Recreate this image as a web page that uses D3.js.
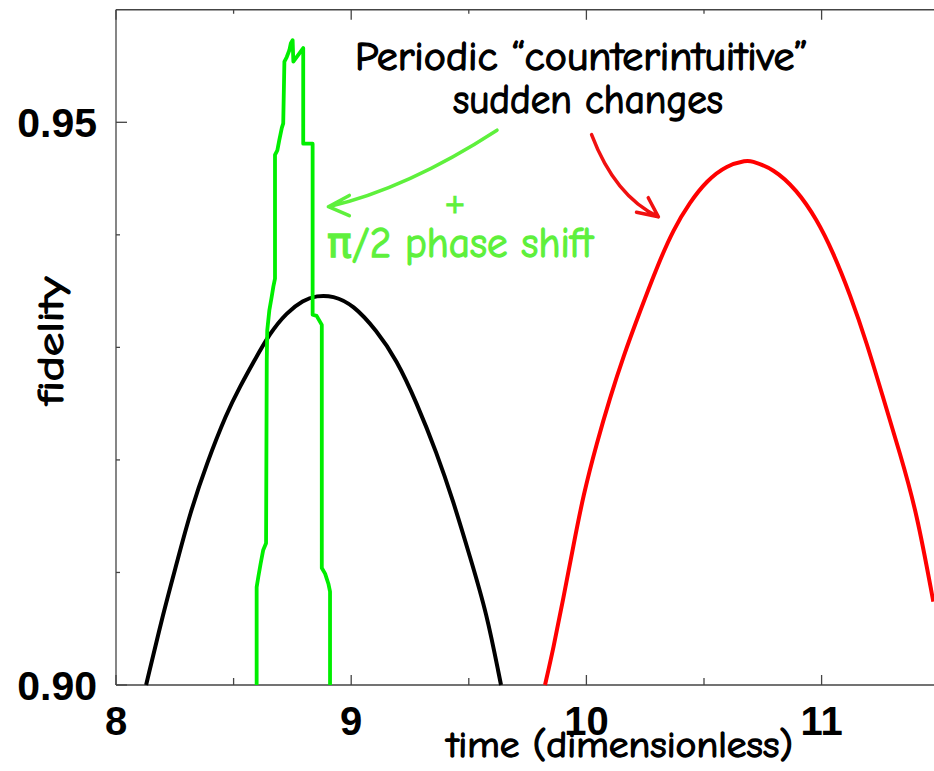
<!DOCTYPE html>
<html>
<head>
<meta charset="utf-8">
<script src="https://d3js.org/d3.v7.min.js"></script>
<style>
  html, body { margin: 0; padding: 0; background: #fff; }
  svg { display: block; }
</style>
</head>
<body>
<svg id="chart"></svg>
<script>
// fidelity vs time
var blackTime = [8.128, 8.201, 8.258, 8.315, 8.386, 8.471, 8.527, 8.582, 8.655, 8.726, 8.795, 8.853, 8.922, 9.008, 9.108, 9.193, 9.278, 9.364, 9.433, 9.505, 9.576, 9.633, 9.637];
var blackFidelity = [0.9000, 0.9064, 0.9108, 0.9153, 0.9197, 0.9242, 0.9265, 0.9286, 0.9313, 0.9331, 0.9342, 0.9346, 0.9346, 0.9338, 0.9315, 0.9289, 0.9251, 0.9206, 0.9164, 0.9114, 0.9064, 0.9004, 0.9000];

var redTime = [9.824, 9.859, 9.902, 9.944, 9.987, 10.044, 10.100, 10.157, 10.228, 10.299, 10.370, 10.440, 10.511, 10.597, 10.682, 10.696, 10.795, 10.894, 10.979, 11.050, 11.121, 11.192, 11.262, 11.333, 11.404, 11.475];
var redFidelity = [0.9000, 0.9032, 0.9077, 0.9123, 0.9169, 0.9215, 0.9255, 0.9292, 0.9332, 0.9371, 0.9405, 0.9429, 0.9448, 0.9462, 0.9466, 0.9466, 0.9459, 0.9440, 0.9414, 0.9384, 0.9347, 0.9304, 0.9255, 0.9206, 0.9154, 0.9074];

var greenTime = [8.598, 8.598, 8.605, 8.615, 8.626, 8.638, 8.641, 8.643, 8.652, 8.662, 8.669, 8.676, 8.676, 8.686, 8.694, 8.705, 8.711, 8.716, 8.726, 8.737, 8.743, 8.751, 8.754, 8.796, 8.796, 8.836, 8.836, 8.853, 8.875, 8.875, 8.889, 8.903, 8.910, 8.910];
var greenFidelity = [0.9000, 0.9087, 0.9096, 0.9108, 0.9120, 0.9126, 0.9289, 0.9315, 0.9333, 0.9345, 0.9354, 0.9361, 0.9471, 0.9475, 0.9484, 0.9495, 0.9499, 0.9554, 0.9558, 0.9564, 0.9570, 0.9573, 0.9554, 0.9566, 0.9481, 0.9481, 0.9329, 0.9328, 0.9320, 0.9104, 0.9099, 0.9090, 0.9083, 0.9000];

var xMajorTicks = [8, 9, 10, 11];
var xMinorTicks = [8.5, 9.5, 10.5, 11.5];
var yMajorTicks = [0.90, 0.95];
var yMinorTicks = [0.91, 0.92, 0.93, 0.94];
var yTickLabels = ['0.90', '0.95'];

var xTitle = 'time (dimensionless)';
var yTitle = 'fidelity';
var noteLines = ['Periodic \u201ccounterintuitive\u201d', 'sudden changes'];
var shiftPlus = '+';
var shiftText = '\u03c0/2 phase shift';

var width = 934;
var height = 771;
var comic = '"Comic Sans MS", "Comic Neue", "DejaVu Sans", sans-serif';
var arial = '"Liberation Sans", Arial, sans-serif';
var axisColor = '#444';
var noteGreen = '#5ef03c';

var svg = d3.select('#chart')
  .attr('width', width)
  .attr('height', height);

var x = d3.scaleLinear().domain([8, 11.5]).range([116, 116 + 3.5 * 235.2]);
var y = d3.scaleLinear().domain([0.90, 0.96]).range([685, 685 - 6 * 112.54]);

function zip(xs, ys) {
  return xs.map(function(v, i) { return [v, ys[i]]; });
}

// frame: left, top, bottom
var frame = svg.append('g').attr('stroke', axisColor).attr('stroke-width', 1.3).attr('fill', 'none');
frame.append('line').attr('x1', x(8)).attr('x2', x(8)).attr('y1', y(0.96)).attr('y2', y(0.90));
frame.append('line').attr('x1', x(8)).attr('x2', x(11.5)).attr('y1', y(0.96)).attr('y2', y(0.96));
frame.append('line').attr('x1', x(8)).attr('x2', x(11.5)).attr('y1', y(0.90)).attr('y2', y(0.90));

// ticks (all pointing inwards)
xMajorTicks.forEach(function(t) {
  frame.append('line').attr('x1', x(t)).attr('x2', x(t)).attr('y1', y(0.90)).attr('y2', y(0.90) - 10);
  frame.append('line').attr('x1', x(t)).attr('x2', x(t)).attr('y1', y(0.96)).attr('y2', y(0.96) + 10);
});
xMinorTicks.forEach(function(t) {
  frame.append('line').attr('x1', x(t)).attr('x2', x(t)).attr('y1', y(0.90)).attr('y2', y(0.90) - 7);
  frame.append('line').attr('x1', x(t)).attr('x2', x(t)).attr('y1', y(0.96)).attr('y2', y(0.96) + 4);
});
yMajorTicks.forEach(function(t) {
  frame.append('line').attr('x1', x(8)).attr('x2', x(8) + 11).attr('y1', y(t)).attr('y2', y(t));
});
yMinorTicks.forEach(function(t) {
  frame.append('line').attr('x1', x(8)).attr('x2', x(8) + 4).attr('y1', y(t)).attr('y2', y(t));
});

// tick labels
svg.selectAll('text.xlab')
  .data(xMajorTicks)
  .enter().append('text')
  .attr('class', 'xlab')
  .attr('x', function(d) { return x(d); })
  .attr('y', 735)
  .attr('text-anchor', 'middle')
  .attr('font-family', arial)
  .attr('font-weight', 'bold')
  .attr('font-size', 40)
  .text(function(d) { return d; });

svg.selectAll('text.ylab')
  .data(yMajorTicks)
  .enter().append('text')
  .attr('class', 'ylab')
  .attr('x', 97)
  .attr('y', function(d) { return y(d) + 14.5; })
  .attr('text-anchor', 'end')
  .attr('font-family', arial)
  .attr('font-weight', 'bold')
  .attr('font-size', 41)
  .text(function(d, i) { return yTickLabels[i]; });

// hand-written looking labels: a little stroke to thicken them
function comicText(tx, ty, size, len, color, str) {
  return svg.append('text')
    .attr('x', tx).attr('y', ty)
    .attr('font-family', comic)
    .attr('font-size', size)
    .attr('fill', color)
    .attr('stroke', color)
    .attr('stroke-width', 1.3)
    .attr('textLength', len)
    .attr('lengthAdjust', 'spacingAndGlyphs')
    .text(str);
}

// axis titles
comicText(447, 757, 37, 346, '#000', xTitle);
comicText(0, 0, 37, 128, '#000', yTitle)
  .attr('transform', 'translate(63,405) rotate(-90)');

// curves
var line = d3.line()
  .x(function(d) { return x(d[0]); })
  .y(function(d) { return y(d[1]); });

svg.append('path')
  .datum(zip(blackTime, blackFidelity))
  .attr('fill', 'none')
  .attr('stroke', '#000')
  .attr('stroke-width', 4)
  .attr('stroke-linejoin', 'round')
  .attr('d', line.curve(d3.curveBasis));

svg.append('path')
  .datum(zip(redTime, redFidelity))
  .attr('fill', 'none')
  .attr('stroke', '#ff0000')
  .attr('stroke-width', 4)
  .attr('stroke-linejoin', 'round')
  .attr('d', line.curve(d3.curveBasis));

svg.append('path')
  .datum(zip(greenTime, greenFidelity))
  .attr('fill', 'none')
  .attr('stroke', '#00ee00')
  .attr('stroke-width', 3.8)
  .attr('stroke-linejoin', 'round')
  .attr('d', line.curve(d3.curveLinear));

// annotation text
comicText(355, 70, 40, 453, '#000', noteLines[0]);
comicText(453, 113, 40, 270, '#000', noteLines[1]);

svg.append('text')
  .attr('x', 455).attr('y', 213)
  .attr('text-anchor', 'middle')
  .attr('font-family', '"DejaVu Sans", sans-serif').attr('font-size', 26)
  .attr('fill', noteGreen)
  .attr('stroke', noteGreen).attr('stroke-width', 1)
  .text(shiftPlus);
comicText(327, 257, 42, 266, noteGreen, shiftText);

// arrows, positioned in data units
function px(t, f) { return [x(t), y(f)]; }

var greenArrow = { from: [9.62, 0.9493], ctrl: [9.236, 0.9441], to: [8.903, 0.9425], arms: [[8.992, 0.9435], [8.992, 0.9417]] };
var redArrow = { from: [10.022, 0.9489], ctrl: [10.122, 0.9434], to: [10.306, 0.9416], arms: [[10.213, 0.9420], [10.263, 0.9433]] };

function drawArrow(a, color) {
  var p0 = px(a.from[0], a.from[1]);
  var c = px(a.ctrl[0], a.ctrl[1]);
  var p1 = px(a.to[0], a.to[1]);
  var path = d3.path();
  path.moveTo(p0[0], p0[1]);
  path.quadraticCurveTo(c[0], c[1], p1[0], p1[1]);
  a.arms.forEach(function(arm) {
    var q = px(arm[0], arm[1]);
    path.moveTo(p1[0], p1[1]);
    path.lineTo(q[0], q[1]);
  });
  svg.append('path')
    .attr('d', path.toString())
    .attr('fill', 'none')
    .attr('stroke', color)
    .attr('stroke-width', 3.5)
    .attr('stroke-linecap', 'round')
    .attr('stroke-linejoin', 'round');
}

drawArrow(greenArrow, noteGreen);
drawArrow(redArrow, '#f01010');
</script>
</body>
</html>
